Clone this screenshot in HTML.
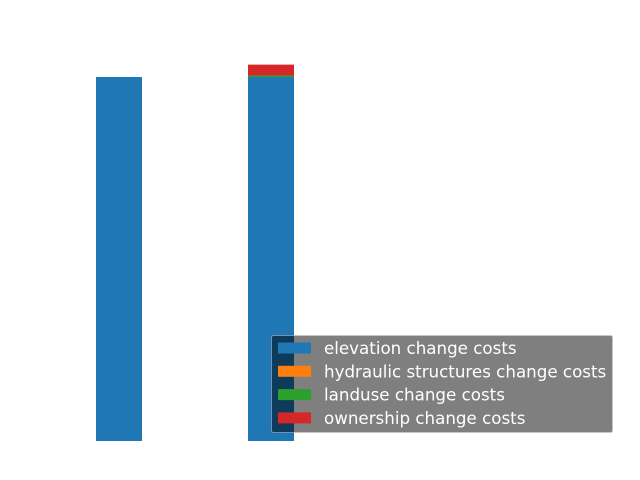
<!DOCTYPE html>
<html><head><meta charset="utf-8"><style>
body{margin:0;background:#fff}
svg{display:block}
text{font-family:"DejaVu Sans","Liberation Sans",sans-serif}
</style></head><body>
<svg id="chart" width="640" height="480" xmlns="http://www.w3.org/2000/svg">
<g id="bars"></g>
<g id="legend"></g>
</svg>
<script>
const categories = ["scenario-1","scenario-2"];
const elevation = [1.0, 1.0];
const hydraulic = [0, 0];
const landuse = [0, 0.004];
const ownership = [0, 0.03];
const seriesNames = ["elevation change costs","hydraulic structures change costs","landuse change costs","ownership change costs"];
const colors = ["#1f77b4","#ff7f0e","#2ca02c","#d62728"];
const series = [elevation, hydraulic, landuse, ownership];

const NS="http://www.w3.org/2000/svg";
const y0=441, pxPerUnit=364;
function yScale(v){return y0 - v*pxPerUnit;}
function xScale(i){return 96 + i*152;}
const bw=46;
const gb=document.getElementById('bars');
categories.forEach((c,i)=>{
  let acc=0;
  series.forEach((s,k)=>{
    const v=s[i]; if(!v) return;
    const r=document.createElementNS(NS,'rect');
    r.setAttribute('x',xScale(i));
    r.setAttribute('width',bw);
    r.setAttribute('y',yScale(acc+v));
    r.setAttribute('height',yScale(acc)-yScale(acc+v));
    r.setAttribute('fill',colors[k]);
    
    
    gb.appendChild(r);
    acc+=v;
  });
});
const gl=document.getElementById('legend');
const box=document.createElementNS(NS,'rect');
box.setAttribute('x',271.5);box.setAttribute('y',335.5);box.setAttribute('width',341);box.setAttribute('height',97);
box.setAttribute('rx',2);box.setAttribute('fill','rgba(0,0,0,0.5)');box.setAttribute('stroke','#cccccc');box.setAttribute('stroke-opacity','0.5');


gl.appendChild(box);
seriesNames.forEach((n,k)=>{
  const yy=348+k*23.3;
  const h=document.createElementNS(NS,'rect');
  h.setAttribute('x',278);h.setAttribute('y',yy-5.5);h.setAttribute('width',33);h.setAttribute('height',11);h.setAttribute('fill',colors[k]);
  
  
  gl.appendChild(h);
  const t=document.createElementNS(NS,'text');
  t.setAttribute('x',324);t.setAttribute('y',yy+6);t.setAttribute('fill','#ffffff');t.setAttribute('font-size','16.7');
  t.textContent=n;
  
  
  gl.appendChild(t);
});
</script>
</body></html>
